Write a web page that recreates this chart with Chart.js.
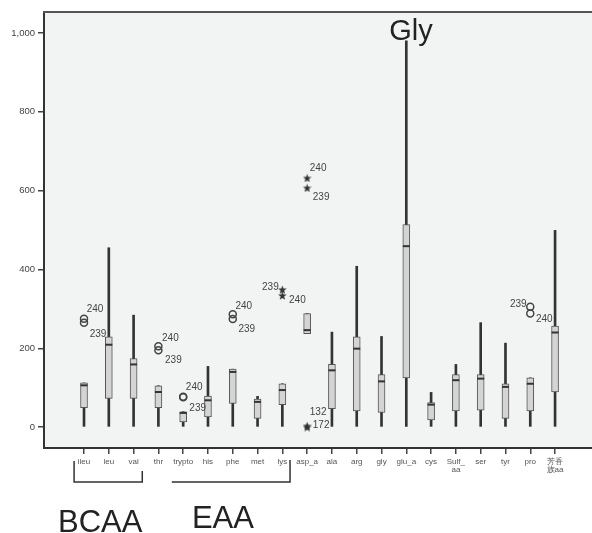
<!DOCTYPE html>
<html>
<head>
<meta charset="utf-8">
<script src="https://cdn.jsdelivr.net/npm/chart.js@4/dist/chart.umd.min.js"></script>
<style>
  body { margin: 0; background: #fff; }
  #wrap { width: 592px; height: 533px; position: relative; }
</style>
</head>
<body>
<div id="wrap"><canvas id="aaChart"></canvas></div>
<script>
// amino acid groups on the x axis
const categories = ["ileu", "leu", "val", "thr", "trypto", "his", "phe", "met", "lys", "asp_a",
  "ala", "arg", "gly", "glu_a", "cys", ["Sulf_", "aa"], "ser", "tyr", "pro", ["芳香", "族aa"]];

// box plot summary
const whiskerMin = [0, 0, 0, 0, 0, 0, 0, 0, 0, 237, 0, 0, 0, 0, 0, 0, 0, 0, 0, 0];
const q1 = [49, 73, 73, 49, 13, 26, 60, 22, 57, 237, 47, 41, 37, 125, 18, 41, 43, 22, 41, 89];
const medians = [106, 209, 159, 89, 36, 68, 140, 64, 94, 246, 144, 199, 116, 459, 57, 119, 123, 102, 110, 240];
const q3 = [112, 229, 174, 105, 39, 79, 147, 71, 110, 288, 159, 229, 133, 514, 62, 133, 133, 110, 125, 256];
const whiskerMax = [112, 455, 284, 105, 39, 154, 147, 78, 110, 288, 241, 408, 230, 980, 88, 159, 265, 213, 125, 499];

// outliers (circles) and extremes (stars) with their case numbers
const circleCat = [0, 0, 3, 3, 4, 4, 6, 6, 18, 18];
const circleVal = [275, 265, 205, 195, 77, 76, 286, 274, 305, 288];
const circleId = ["240", "239", "240", "239", "240", "239", "240", "239", "239", "240"];
const starCat = [8, 8, 9, 9, 9, 9];
const starVal = [349, 334, 632, 607, 3, 0];
const starId = ["239", "240", "240", "239", "132", "172"];

const yTicks = [0, 200, 400, 600, 800, 1000];

// where the case numbers sit next to their marker (pixels)
const circleLabelOffset = [[11, -9], [14, 12], [12, -8.5], [15, 10], [11, -10], [14.5, 11],
  [11, -8], [14, 10.5], [-12, -2.5], [14, 6]];
const starLabelOffset = [[-12, -2], [15, 4.5], [11, -10], [14, 9.5], [11, -14], [14, -2]];

const FONT = "'Liberation Sans', Arial, Helvetica, sans-serif";

// filled five point star used for the extreme values
function makeStar(size, color) {
  var c = document.createElement("canvas");
  c.width = size;
  c.height = size;
  var g = c.getContext("2d");
  var cx = size / 2, cy = size / 2 + 0.5;
  var outer = size / 2, inner = outer * 0.42;
  g.beginPath();
  for (var i = 0; i < 10; i++) {
    var r = i % 2 === 0 ? outer : inner;
    var a = -Math.PI / 2 + i * Math.PI / 5;
    g.lineTo(cx + r * Math.cos(a), cy + r * Math.sin(a));
  }
  g.closePath();
  g.fillStyle = color;
  g.fill();
  return c;
}

// plot background and the top frame line
const plotFrame = {
  id: "plotFrame",
  beforeDraw(chart) {
    var a = chart.chartArea, ctx = chart.ctx;
    ctx.save();
    ctx.fillStyle = "#f2f3f3";
    ctx.fillRect(a.left, a.top, a.right - a.left, a.bottom - a.top);
    ctx.restore();
  },
  afterDraw(chart) {
    var a = chart.chartArea, ctx = chart.ctx;
    ctx.save();
    ctx.strokeStyle = "#555";
    ctx.lineWidth = 2;
    ctx.beginPath();
    ctx.moveTo(a.left - 1, a.top);
    ctx.lineTo(a.right, a.top);
    ctx.stroke();
    ctx.restore();
  }
};

// case numbers beside outliers
const caseLabels = {
  id: "caseLabels",
  afterDatasetsDraw(chart) {
    var ctx = chart.ctx;
    ctx.save();
    ctx.font = "10px " + FONT;
    ctx.fillStyle = "#444";
    ctx.textAlign = "center";
    ctx.textBaseline = "middle";
    chart.data.datasets.forEach((ds, di) => {
      if (!ds.caseIds) return;
      var meta = chart.getDatasetMeta(di);
      meta.data.forEach((pt, i) => {
        var off = ds.caseOffsets[i];
        ctx.fillText(ds.caseIds[i], pt.x + off[0], pt.y + off[1]);
      });
    });
    ctx.restore();
  }
};

// Gly note plus the BCAA / EAA brackets under the axis
const notes = {
  id: "notes",
  afterDraw(chart) {
    var ctx = chart.ctx, x = chart.scales.x, y = chart.scales.y;
    ctx.save();
    ctx.fillStyle = "#222";
    ctx.font = "29px " + FONT;
    ctx.textAlign = "left";
    ctx.textBaseline = "alphabetic";
    ctx.fillText("Gly", x.getPixelForValue(13) - 17, y.getPixelForValue(whiskerMax[13]) - 1);

    ctx.strokeStyle = "#333";
    ctx.lineWidth = 1.5;
    var bl = x.getPixelForValue(-0.4), br = x.getPixelForValue(2.35);
    ctx.beginPath();
    ctx.moveTo(bl, 461);
    ctx.lineTo(bl, 482);
    ctx.lineTo(br, 482);
    ctx.lineTo(br, 471);
    ctx.stroke();
    var el = x.getPixelForValue(3.54), er = x.getPixelForValue(8.31);
    ctx.beginPath();
    ctx.moveTo(el, 482);
    ctx.lineTo(er, 482);
    ctx.lineTo(er, 460);
    ctx.stroke();

    ctx.font = "31px " + FONT;
    ctx.textAlign = "center";
    ctx.fillText("BCAA", (bl + br) / 2 - 8, 532);
    ctx.fillText("EAA", (el + er) / 2 - 8, 528);
    ctx.restore();
  }
};

var ctx = document.getElementById("aaChart");
var starImg = makeStar(9, "#333");

let aaChart = new Chart(ctx, {
  type: "bar",
  data: {
    datasets: [
      {
        label: "whisker",
        data: categories.map((c, i) => ({ x: i, y: [whiskerMin[i], whiskerMax[i]] })),
        backgroundColor: "#333",
        barThickness: 2,
        grouped: false,
        order: 5
      },
      {
        label: "box",
        data: categories.map((c, i) => ({ x: i, y: [q1[i], q3[i]] })),
        backgroundColor: "#d4d4d4",
        borderColor: "#555",
        borderWidth: 1,
        borderSkipped: false,
        barThickness: 7,
        grouped: false,
        order: 4
      },
      {
        type: "scatter",
        label: "median",
        data: categories.map((c, i) => ({ x: i, y: medians[i] })),
        pointStyle: "line",
        radius: 3.5,
        borderColor: "#333",
        borderWidth: 2,
        order: 3
      },
      {
        type: "scatter",
        label: "outlier",
        data: circleCat.map((c, i) => ({ x: c, y: circleVal[i] })),
        pointStyle: "circle",
        radius: 3.5,
        borderColor: "#444",
        backgroundColor: "rgba(0,0,0,0)",
        borderWidth: 1.5,
        caseIds: circleId,
        caseOffsets: circleLabelOffset,
        order: 2
      },
      {
        type: "scatter",
        label: "extreme",
        data: starCat.map((c, i) => ({ x: c, y: starVal[i] })),
        pointStyle: starImg,
        caseIds: starId,
        caseOffsets: starLabelOffset,
        order: 1
      }
    ]
  },
  options: {
    responsive: true,
    maintainAspectRatio: false,
    animation: false,
    layout: { autoPadding: false, padding: { top: 12, right: 0, left: 0, bottom: 0 } },
    plugins: { legend: { display: false }, tooltip: { enabled: false } },
    scales: {
      x: {
        type: "linear",
        min: -1.614,
        max: 20.49,
        offset: false,
        afterBuildTicks: scale => {
          scale.ticks = categories.map((c, i) => ({ value: i }));
        },
        afterFit: scale => {
          scale.height = 85;
          scale.paddingLeft = 0;
          scale.paddingRight = 0;
        },
        grid: { offset: false, drawOnChartArea: false, tickLength: 6, color: "#444", lineWidth: 1.5 },
        border: { display: true, color: "#333", width: 2 },
        ticks: {
          autoSkip: false,
          maxRotation: 0,
          padding: 3,
          color: "#555",
          font: { family: FONT, size: 8, lineHeight: 1.1 },
          callback: v => categories[v]
        }
      },
      y: {
        min: -53,
        max: 1053,
        afterBuildTicks: scale => {
          scale.ticks = yTicks.map(v => ({ value: v }));
        },
        afterFit: scale => { scale.width = 44; },
        grid: { drawOnChartArea: false, tickLength: 6, color: "#444", lineWidth: 1.5 },
        border: { display: true, color: "#333", width: 2 },
        ticks: {
          padding: 3,
          color: "#444",
          font: { family: FONT, size: 9.5 },
          callback: v => v.toLocaleString("en-US")
        }
      }
    }
  },
  plugins: [plotFrame, caseLabels, notes]
});
</script>
</body>
</html>
